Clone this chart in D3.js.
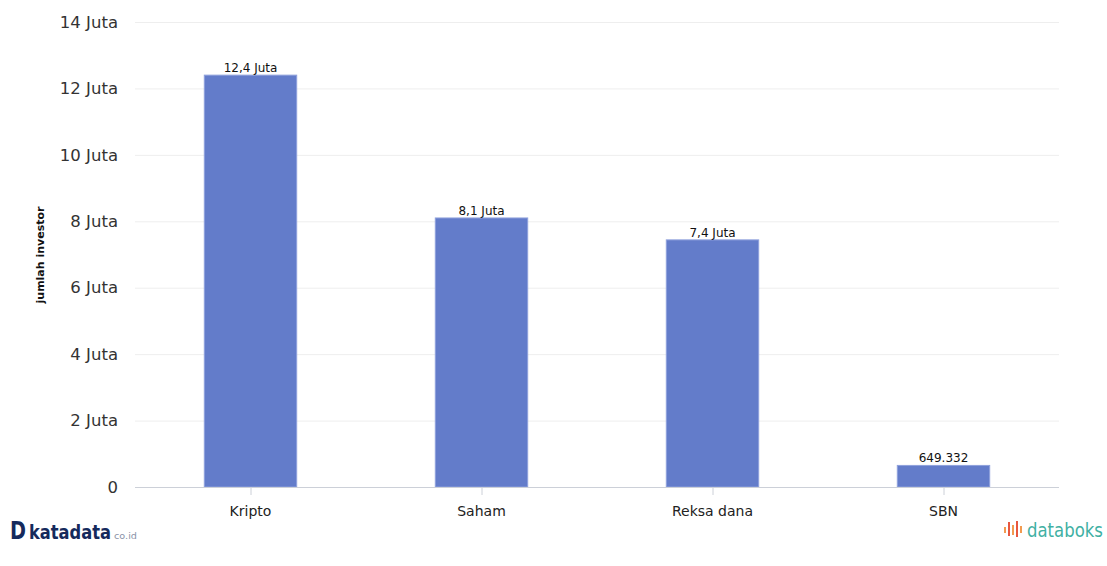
<!DOCTYPE html>
<html>
<head>
<meta charset="utf-8">
<script src="https://cdn.jsdelivr.net/npm/d3@7"></script>
<style>
  body { margin: 0; background: #fff; }
  svg { display: block; font-family: "DejaVu Sans", Verdana, sans-serif; }
</style>
</head>
<body>
<svg id="chart" width="1107" height="566"></svg>
<script>
// data
const categories = ["Kripto", "Saham", "Reksa dana", "SBN"];
const investors = [12400000, 8100000, 7440000, 649332];
const valueLabels = ["12,4 Juta", "8,1 Juta", "7,4 Juta", "649.332"];
const yTicks = [0, 2e6, 4e6, 6e6, 8e6, 10e6, 12e6, 14e6];
const yTickLabels = ["0", "2 Juta", "4 Juta", "6 Juta", "8 Juta", "10 Juta", "12 Juta", "14 Juta"];

const svg = d3.select("#chart");
const plot = { left: 135, right: 1059, top: 22, bottom: 487 };

const x = d3.scaleBand()
  .domain(categories)
  .range([plot.left, plot.right])
  .paddingInner(0.6)
  .paddingOuter(0.3);

const y = d3.scaleLinear()
  .domain([0, 14e6])
  .range([plot.bottom, plot.top]);

// gridlines
svg.append("g")
  .selectAll("line")
  .data(yTicks.slice(1))
  .enter()
  .append("line")
  .attr("x1", plot.left)
  .attr("x2", plot.right)
  .attr("y1", d => y(d) + 0.5)
  .attr("y2", d => y(d) + 0.5)
  .attr("stroke", "#eeeeee")
  .attr("stroke-width", 1);

// y tick labels
svg.append("g")
  .selectAll("text")
  .data(yTicks)
  .enter()
  .append("text")
  .attr("x", 118)
  .attr("y", d => y(d))
  .attr("dy", "0.35em")
  .attr("text-anchor", "end")
  .attr("font-size", 16.5)
  .attr("fill", "#333")
  .text((d, i) => yTickLabels[i]);

// y axis title
svg.append("text")
  .attr("transform", "translate(44,255) rotate(-90)")
  .attr("text-anchor", "middle")
  .attr("font-size", 11)
  .attr("font-weight", "bold")
  .attr("fill", "#111")
  .text("jumlah investor");

// bars
svg.append("g")
  .selectAll("rect")
  .data(investors)
  .enter()
  .append("rect")
  .attr("x", (d, i) => x(categories[i]))
  .attr("y", d => y(d))
  .attr("width", x.bandwidth())
  .attr("height", d => plot.bottom - y(d))
  .attr("fill", "#637cca")
  .attr("stroke", "#8fa1dc")
  .attr("stroke-width", 1);

// value labels
svg.append("g")
  .selectAll("text")
  .data(investors)
  .enter()
  .append("text")
  .attr("x", (d, i) => x(categories[i]) + x.bandwidth() / 2)
  .attr("y", d => y(d) - 3)
  .attr("text-anchor", "middle")
  .attr("font-size", 12)
  .attr("fill", "#111")
  .text((d, i) => valueLabels[i]);

// x axis line and ticks
svg.append("line")
  .attr("x1", plot.left)
  .attr("x2", plot.right)
  .attr("y1", plot.bottom + 0.5)
  .attr("y2", plot.bottom + 0.5)
  .attr("stroke", "#ccd0d8");

svg.append("g")
  .selectAll("line")
  .data(categories)
  .enter()
  .append("line")
  .attr("x1", d => x(d) + x.bandwidth() / 2 + 0.5)
  .attr("x2", d => x(d) + x.bandwidth() / 2 + 0.5)
  .attr("y1", plot.bottom)
  .attr("y2", plot.bottom + 8)
  .attr("stroke", "#ccd0d8");

svg.append("g")
  .selectAll("text")
  .data(categories)
  .enter()
  .append("text")
  .attr("x", d => x(d) + x.bandwidth() / 2)
  .attr("y", 516)
  .attr("text-anchor", "middle")
  .attr("font-size", 14)
  .attr("fill", "#222")
  .text(d => d);

// squeeze a logo text horizontally so it fits a given width
function fitText(x0, y0, width, size, weight, color, str) {
  const g = svg.append("g");
  const t = g.append("text")
    .attr("font-size", size)
    .attr("font-weight", weight)
    .attr("fill", color)
    .text(str);
  const w = t.node().getComputedTextLength();
  g.attr("transform", "translate(" + x0 + "," + y0 + ") scale(" + (width / w) + ",1)");
  return g;
}

// katadata logo
fitText(10, 539, 16, 24, "bold", "#152a5c", "D");
fitText(29, 539, 82, 20, "bold", "#152a5c", "katadata");
fitText(114, 539, 23, 8, "normal", "#8a93a8", "co.id");

// databoks logo
const iconBars = [[1004, 527, 6], [1008, 522, 14], [1012, 525, 10], [1016, 521, 16], [1020, 526, 7]];
svg.append("g")
  .selectAll("rect")
  .data(iconBars)
  .enter()
  .append("rect")
  .attr("x", d => d[0])
  .attr("y", d => d[1])
  .attr("width", 2)
  .attr("height", d => d[2])
  .attr("fill", (d, i) => i % 2 ? "#e8573f" : "#f29b50");
fitText(1027, 537, 76, 19, "normal", "#3fb0a3", "databoks");
</script>
</body>
</html>
